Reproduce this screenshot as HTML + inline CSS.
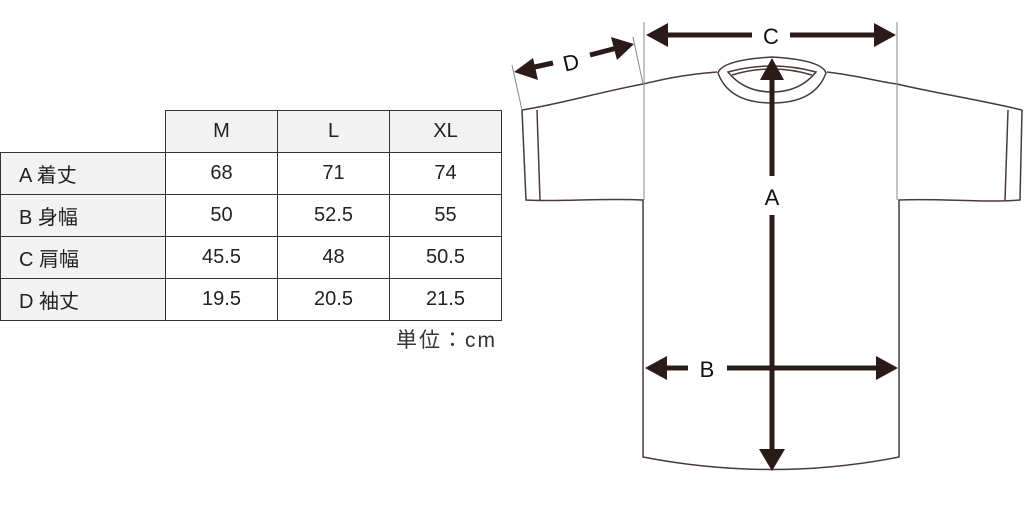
<!DOCTYPE html>
<html><head><meta charset="utf-8"><style>
body{margin:0;width:1024px;height:512px;background:#fff;overflow:hidden;position:relative;font-family:"Liberation Sans","Noto Sans CJK JP",sans-serif;}
table{position:absolute;left:0;top:110px;border-collapse:collapse;}
td{border:1.5px solid #333;height:41px;font-size:20px;color:#222;text-align:center;padding:0;}
td.h{background:#f2f2f2;}
td.l{background:#f2f2f2;text-align:left;padding-left:18px;width:146px;}
td.e{border:none;border-right:1.5px solid #333;border-bottom:1.5px solid #333;}
td.v{width:111px;}
.unit{position:absolute;left:396px;top:324px;font-size:21px;letter-spacing:2px;color:#333;}
svg{position:absolute;left:0;top:0;}
</style></head><body>
<table>
<tr><td class="e"></td><td class="h v">M</td><td class="h v">L</td><td class="h v">XL</td></tr>
<tr><td class="l">A 着丈</td><td>68</td><td>71</td><td>74</td></tr>
<tr><td class="l">B 身幅</td><td>50</td><td>52.5</td><td>55</td></tr>
<tr><td class="l">C 肩幅</td><td>45.5</td><td>48</td><td>50.5</td></tr>
<tr><td class="l">D 袖丈</td><td>19.5</td><td>20.5</td><td>21.5</td></tr>
</table>
<div class="unit">単位：cm</div>
<svg width="1024" height="512" viewBox="0 0 1024 512">
<g fill="none" stroke="#4a3a3a" stroke-width="1.5">
<path d="M643,84 C660,80 680,75 717,72 M827,72 C860,76 880,82 897,84 C930,92 980,100 1022,110"/>
<path d="M522,110 C560,104 600,92 643,84"/>
<path d="M522,110 L526,200 C560,202 600,198 643,200 L643,457 Q772,482 899,457 L899,200 C940,198 980,203 1020,200 L1022,110"/>
<path d="M537,110 L540,200 M1008,110 L1005,200"/>
<path d="M718,73 Q722,60 772,57 Q822,60 826,73 Q815,103 772,103 Q729,103 718,73 Z"/>
<path d="M728,72 Q772,60 816,72 Q800,92 772,92 Q744,92 728,72 Z"/>
<path d="M732,75 Q772,63 812,75"/>
</g>
<g stroke="#888" stroke-width="1">
<line x1="644" y1="22" x2="644" y2="200"/><line x1="897" y1="22" x2="897" y2="200"/>
<line x1="512" y1="65" x2="522" y2="110"/><line x1="633" y1="37" x2="643" y2="84"/>
</g>
<g fill="#2b1a1a" stroke="#2b1a1a">
<line x1="665" y1="35" x2="752" y2="35" stroke-width="5"/>
<line x1="790" y1="35" x2="876" y2="35" stroke-width="5"/>
<polygon points="646,35 668,23 668,47" stroke="none"/>
<polygon points="896,35 874,23 874,47" stroke="none"/>
<line x1="772" y1="78" x2="772" y2="176" stroke-width="5"/>
<line x1="772" y1="215" x2="772" y2="450" stroke-width="5"/>
<polygon points="772,58 760,80 784,80" stroke="none"/>
<polygon points="772,471 759,449 785,449" stroke="none"/>
<line x1="664" y1="368" x2="688" y2="368" stroke-width="5"/>
<line x1="727" y1="368" x2="878" y2="368" stroke-width="5"/>
<polygon points="645,368 667,356 667,380" stroke="none"/>
<polygon points="898,368 876,356 876,380" stroke="none"/>
<line x1="530" y1="68" x2="553" y2="63" stroke-width="5"/>
<line x1="590" y1="55" x2="617" y2="48" stroke-width="5"/>
<polygon points="514,72 533,58 538,80" stroke="none"/>
<polygon points="634,44 611,37 617,60" stroke="none"/>
</g>
<g font-family="Liberation Sans, sans-serif" font-size="22" fill="#111" text-anchor="middle">
<text x="771" y="44">C</text>
<text x="772" y="205">A</text>
<text x="707" y="377">B</text>
<text x="571" y="70" transform="rotate(-13 571 62)">D</text>
</g>
</svg>
</body></html>
